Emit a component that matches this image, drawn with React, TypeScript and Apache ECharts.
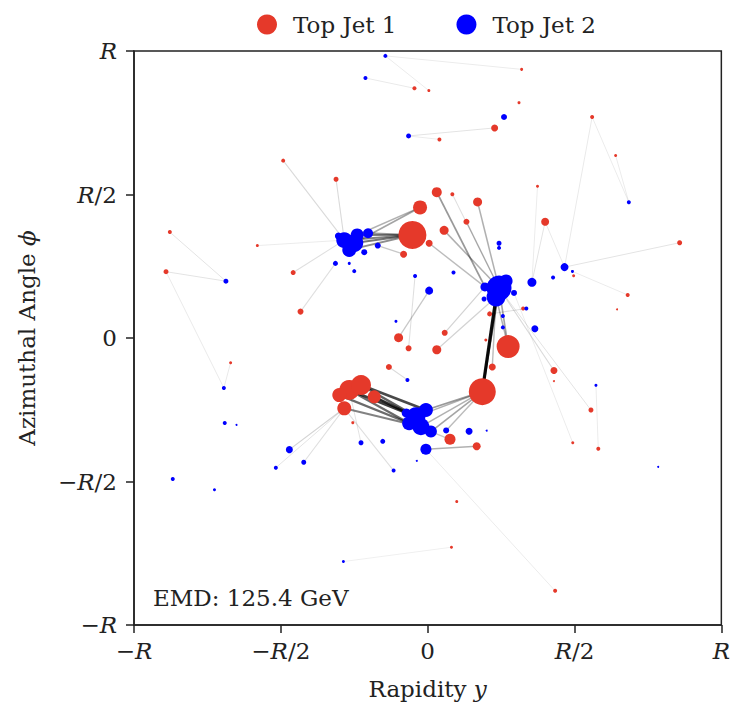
import React, { useEffect, useRef } from "react";
import * as echarts from "echarts";

// Tick positions (in units of R) and their labels
const tickValues = [-1, -0.5, 0, 0.5, 1];
const tickLabels = ["−R", "−R/2", "0", "R/2", "R"];

// Particles of Top Jet 1: [rapidity, azimuth, marker diameter ~ pT]
const redPoints: number[][] = [
  [-0.052, 0.359, 28], [-0.026, 0.455, 14], [0.031, 0.508, 10], [0.17, 0.474, 9],
  [0.056, 0.375, 9], [0.005, 0.33, 7], [0.132, 0.405, 6], [0.084, 0.501, 4],
  [0.4, 0.405, 8], [-0.082, 0.292, 7], [-0.312, 0.553, 5], [-0.492, 0.618, 4],
  [-0.878, 0.369, 4], [-0.891, 0.231, 5], [-0.458, 0.228, 5], [-0.433, 0.092, 6],
  [-0.58, 0.322, 3], [-0.045, 0.87, 4], [0.004, 0.862, 3], [0.32, 0.936, 3],
  [0.311, 0.82, 3], [0.228, 0.732, 7], [0.04, 0.692, 4], [0.56, 0.77, 4],
  [0.64, 0.636, 3], [0.374, 0.529, 3], [0.858, 0.332, 5], [0.497, 0.217, 3],
  [0.681, 0.15, 4], [0.645, 0.1, 2], [0.211, 0.084, 5], [0.325, 0.103, 4],
  [0.058, 0.018, 6], [0.274, -0.03, 23], [0.031, -0.041, 9], [-0.099, 0.001, 9],
  [-0.065, -0.036, 6], [-0.132, -0.101, 6], [0.22, -0.101, 7], [0.43, -0.113, 7],
  [0.186, -0.187, 27], [0.556, -0.251, 5], [0.494, -0.365, 3], [0.581, -0.386, 4],
  [0.076, -0.353, 11], [0.167, -0.377, 8], [0.099, -0.57, 3], [0.081, -0.729, 3],
  [0.434, -0.881, 4], [-0.671, -0.086, 3], [-0.267, -0.181, 20], [-0.227, -0.164, 20],
  [-0.284, -0.245, 14], [-0.182, -0.205, 13], [-0.301, -0.199, 14], [-0.255, -0.295, 3],
  [0.198, -0.007, 3], [0.43, -0.15, 2],
];

// Particles of Top Jet 2: [rapidity, azimuth, marker diameter ~ pT]
const bluePoints: number[][] = [
  [-0.284, 0.341, 16], [-0.25, 0.331, 18], [-0.24, 0.359, 13], [-0.267, 0.307, 14],
  [-0.304, 0.355, 7], [-0.203, 0.365, 10], [-0.17, 0.322, 6], [-0.216, 0.299, 6],
  [-0.314, 0.26, 5], [-0.267, 0.26, 3], [-0.25, 0.233, 4], [-0.144, 0.983, 4],
  [-0.212, 0.906, 4], [-0.065, 0.704, 5], [0.26, 0.77, 6], [0.685, 0.473, 4],
  [0.243, 0.33, 5], [0.243, 0.314, 4], [0.466, 0.247, 8], [0.493, 0.232, 3],
  [0.427, 0.211, 4], [0.355, 0.194, 9], [0.088, 0.228, 4], [0.005, 0.165, 8],
  [-0.043, 0.216, 4], [0.243, 0.174, 25], [0.233, 0.143, 19], [0.195, 0.178, 9],
  [0.267, 0.199, 13], [0.294, 0.157, 6], [0.192, 0.136, 5], [0.336, 0.103, 4],
  [0.256, 0.077, 4], [0.256, 0.037, 4], [0.365, 0.032, 7], [-0.108, 0.058, 3],
  [-0.069, -0.146, 4], [-0.04, -0.274, 19], [-0.006, -0.251, 14], [-0.063, -0.297, 14],
  [-0.023, -0.309, 17], [0.011, -0.326, 12], [-0.073, -0.261, 9], [-0.006, -0.388, 11],
  [0.063, -0.322, 6], [0.141, -0.325, 7], [0.201, -0.323, 2], [-0.227, -0.365, 5],
  [-0.153, -0.36, 5], [-0.116, -0.462, 4], [-0.037, -0.428, 2], [-0.471, -0.389, 7],
  [-0.422, -0.433, 5], [-0.517, -0.452, 4], [-0.868, -0.491, 4], [-0.726, -0.529, 3],
  [-0.694, -0.174, 4], [-0.691, -0.296, 4], [-0.287, -0.779, 3], [-0.687, 0.198, 5],
  [0.573, -0.165, 3], [0.785, -0.449, 2], [-0.651, -0.303, 2],
];

// EMD flows: [red index, blue index, relative flow]
const flows: number[][] = [
  [40, 26, 1.0], [40, 25, 0.55], [50, 37, 0.8], [51, 38, 0.75], [53, 37, 0.7],
  [54, 39, 0.6], [52, 40, 0.5], [51, 37, 0.65], [50, 39, 0.6], [53, 42, 0.55],
  [40, 38, 0.4], [40, 41, 0.35], [40, 37, 0.3], [40, 40, 0.3], [40, 44, 0.25],
  [0, 1, 0.55], [0, 0, 0.5], [0, 2, 0.5], [0, 3, 0.45], [0, 5, 0.4],
  [1, 1, 0.35], [1, 2, 0.3], [33, 25, 0.35], [33, 26, 0.3], [3, 25, 0.3],
  [2, 27, 0.4], [4, 25, 0.3], [5, 27, 0.25], [6, 25, 0.25], [9, 6, 0.2],
  [45, 43, 0.3], [44, 41, 0.2], [35, 23, 0.2], [34, 26, 0.15], [32, 27, 0.15],
  [52, 51, 0.15], [52, 52, 0.1], [52, 53, 0.08], [52, 49, 0.1], [50, 47, 0.08],
  [10, 0, 0.12], [11, 0, 0.12], [14, 0, 0.1], [15, 8, 0.1], [12, 59, 0.08],
  [13, 59, 0.08], [13, 56, 0.06], [49, 56, 0.06], [17, 12, 0.06], [18, 11, 0.05],
  [19, 11, 0.05], [21, 13, 0.08], [23, 18, 0.06], [24, 15, 0.05], [23, 15, 0.05],
  [26, 18, 0.08], [8, 21, 0.08], [8, 18, 0.06], [28, 19, 0.05], [25, 21, 0.05],
  [39, 25, 0.12], [41, 25, 0.08], [43, 60, 0.05], [42, 29, 0.05], [48, 43, 0.05],
  [47, 58, 0.04], [38, 26, 0.25], [37, 36, 0.12], [30, 31, 0.1], [31, 31, 0.1],
  [22, 13, 0.05], [7, 25, 0.1], [16, 0, 0.05], [36, 24, 0.1],
];

const emdText = "EMD: 125.4 GeV";

const FONT = "DejaVu Serif";
const TXT = "#222";
const RED = "#e5392a";
const BLUE = "#0000ff";

const rich = {
  n: { fontFamily: FONT, fontSize: 23, color: TXT },
  i: { fontFamily: FONT, fontSize: 23, color: TXT, fontStyle: "italic" },
};

function toRich(label: string): string {
  return label
    .split(/(R)/)
    .filter((s) => s.length > 0)
    .map((s) => (s === "R" ? "{i|R}" : `{n|${s}}`))
    .join("");
}

function tickFormatter(v: number): string {
  const idx = tickValues.findIndex((t) => Math.abs(t - v) < 1e-6);
  return idx >= 0 ? toRich(tickLabels[idx]) : "";
}

export default function App() {
  const ref = useRef<HTMLDivElement>(null);

  useEffect(() => {
    if (!ref.current) return;
    const chart = echarts.init(ref.current, undefined, { renderer: "svg" });

    const lineData = flows.map(([r, b, w]) => ({
      coords: [
        [redPoints[r][0], redPoints[r][1]],
        [bluePoints[b][0], bluePoints[b][1]],
      ],
      lineStyle: {
        color: "#000",
        width: 0.8 + 2.4 * w,
        opacity: Math.min(1, 0.04 + 0.9 * w),
      },
    }));

    const axisCommon = {
      type: "value" as const,
      min: -1,
      max: 1,
      interval: 0.5,
      axisLine: { show: true, onZero: false, lineStyle: { color: TXT, width: 1.5 } },
      axisTick: { show: true, length: 8, lineStyle: { color: TXT, width: 1.5 } },
      splitLine: { show: false },
      nameLocation: "middle" as const,
    };

    chart.setOption({
      animation: false,
      backgroundColor: "#fff",
      grid: {
        left: 134,
        right: 10,
        top: 51,
        bottom: 81,
        show: true,
        borderColor: TXT,
        borderWidth: 1.5,
      },
      legend: {
        left: 252,
        top: 8,
        icon: "circle",
        itemWidth: 20,
        itemHeight: 20,
        itemGap: 60,
        data: ["Top Jet 1", "Top Jet 2"],
        textStyle: {
          fontFamily: FONT,
          fontSize: 23,
          color: TXT,
          padding: [0, 0, 0, 11],
        },
      },
      xAxis: {
        ...axisCommon,
        axisLabel: { formatter: tickFormatter, rich, margin: 14 },
        name: "{n|Rapidity }{i|y}",
        nameGap: 52,
        nameTextStyle: { rich },
      },
      yAxis: {
        ...axisCommon,
        axisLabel: { formatter: tickFormatter, rich, margin: 17 },
        name: "{n|Azimuthal Angle }{i|ϕ}",
        nameGap: 96,
        nameTextStyle: { rich },
      },
      graphic: [
        {
          type: "text",
          left: 153,
          top: 586,
          style: { text: emdText, font: `23px "${FONT}"`, fill: TXT },
          z: 10,
        },
      ],
      series: [
        {
          type: "lines",
          coordinateSystem: "cartesian2d",
          silent: true,
          z: 1,
          data: lineData,
        },
        {
          name: "Top Jet 1",
          type: "scatter",
          z: 2,
          data: redPoints,
          symbolSize: (v: number[]) => v[2],
          itemStyle: { color: RED, opacity: 1 },
        },
        {
          name: "Top Jet 2",
          type: "scatter",
          z: 3,
          data: bluePoints,
          symbolSize: (v: number[]) => v[2],
          itemStyle: { color: BLUE, opacity: 1 },
        },
      ],
    });

    return () => chart.dispose();
  }, []);

  return (
    <div
      ref={ref}
      style={{ position: "fixed", left: 0, top: 0, width: 733, height: 706 }}
    />
  );
}
